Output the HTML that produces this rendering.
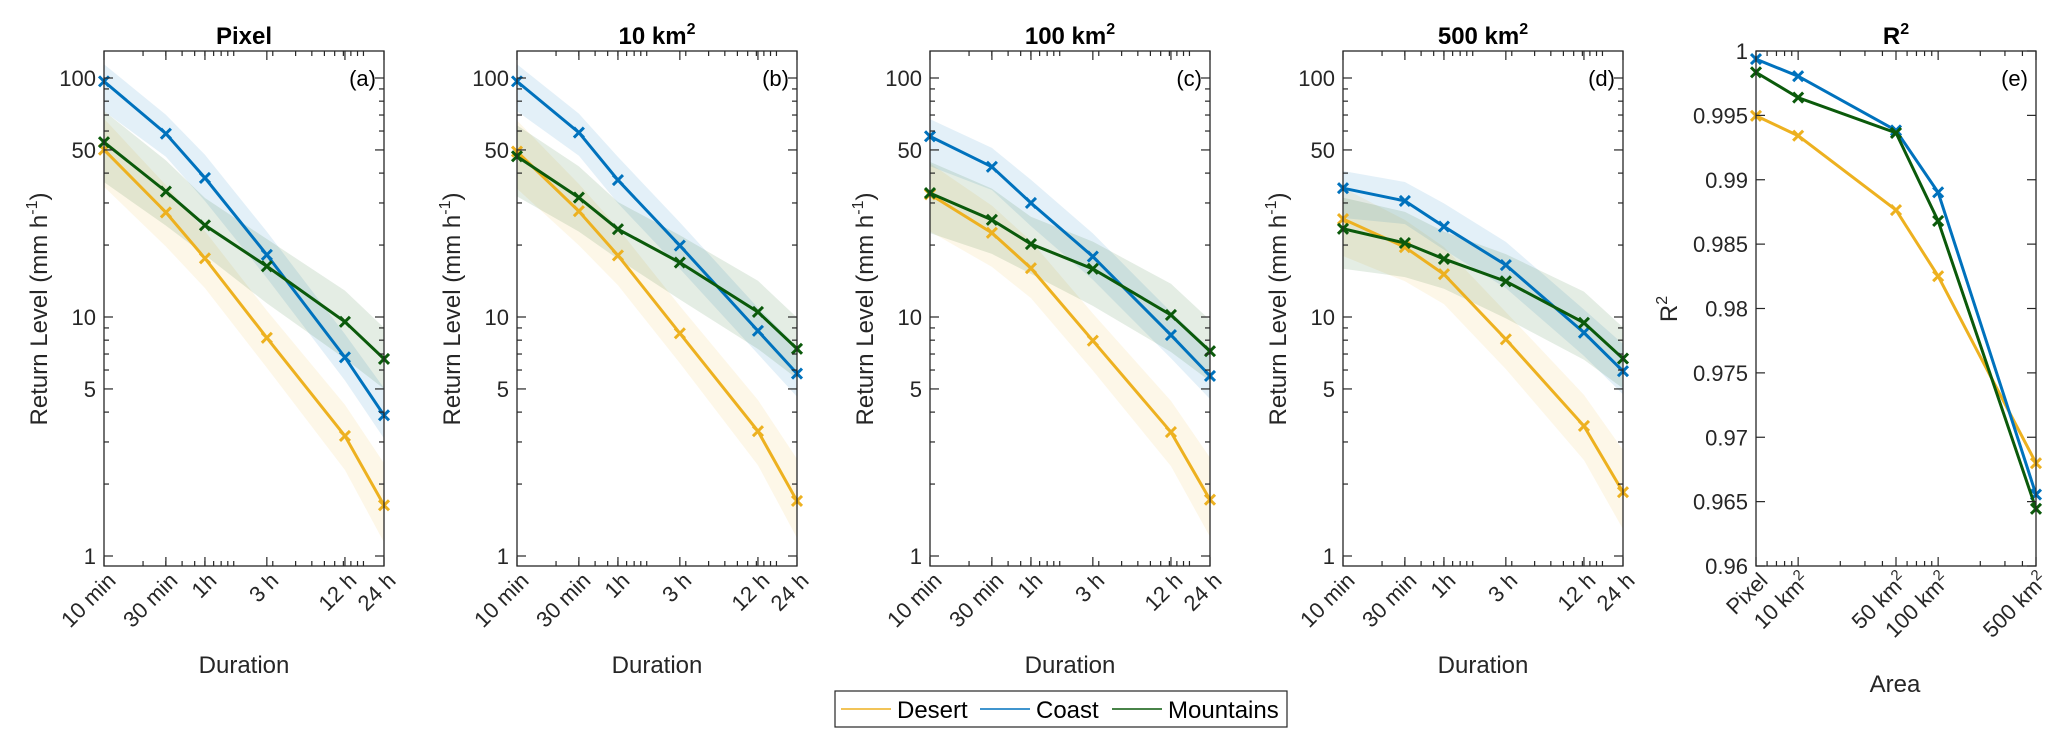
<!DOCTYPE html>
<html><head><meta charset="utf-8"><style>
body{margin:0;background:#fff}
svg{display:block;font-family:"Liberation Sans",Arial,sans-serif}
</style></head><body>
<svg id="fig" width="2067" height="741" viewBox="0 0 2067 741" xmlns="http://www.w3.org/2000/svg"></svg>
<script>
// ---- data ----
const durations = [10, 30, 60, 180, 720, 1440];
const durationLabels = ["10 min", "30 min", "1h", "3 h", "12 h", "24 h"];
const panelTitles = ["Pixel", "10 km", "100 km", "500 km"];
const panelLetters = ["(a)", "(b)", "(c)", "(d)"];
const desertA = [50.1, 27.4, 17.6, 8.18, 3.18, 1.63];
const coastA = [96.8, 58.5, 38.2, 18.2, 6.78, 3.88];
const mountainsA = [53.9, 33.5, 24.2, 16.3, 9.55, 6.68];
const desertB = [49.2, 27.7, 18.1, 8.55, 3.33, 1.70];
const coastB = [96.8, 59.1, 37.4, 19.9, 8.75, 5.8];
const mountainsB = [47, 31.6, 23.3, 16.9, 10.5, 7.36];
const desertC = [32.6, 22.5, 16, 7.96, 3.3, 1.72];
const coastC = [57, 42.5, 30, 17.9, 8.4, 5.67];
const mountainsC = [33, 25.5, 20.2, 15.9, 10.2, 7.19];
const desertD = [25.7, 19.6, 15.1, 8.07, 3.5, 1.85];
const coastD = [34.6, 30.6, 23.9, 16.5, 8.6, 5.93];
const mountainsD = [23.4, 20.4, 17.5, 14.1, 9.46, 6.7];
const desertLow = [0.7, 0.72, 0.75, 0.75, 0.72, 0.7];
const desertHigh = [1.35, 1.3, 1.3, 1.3, 1.35, 1.5];
const coastLow = [0.75, 0.8, 0.8, 0.8, 0.8, 0.8];
const coastHigh = [1.18, 1.2, 1.25, 1.25, 1.25, 1.3];
const mountainsLow = [0.68, 0.72, 0.75, 0.7, 0.7, 0.75];
const mountainsHigh = [1.35, 1.35, 1.3, 1.3, 1.35, 1.35];
const yTickValues = [1, 5, 10, 50, 100];
const areas = [5, 10, 50, 100, 500];
const areaLabels = ["Pixel", "10 km", "50 km", "100 km", "500 km"];
const r2Desert = [0.99497, 0.99342, 0.98765, 0.98251, 0.96799];
const r2Coast = [0.99937, 0.99804, 0.99383, 0.98902, 0.96555];
const r2Mountains = [0.99834, 0.99638, 0.99364, 0.9868, 0.96444];
const r2Ticks = [0.96, 0.965, 0.97, 0.975, 0.98, 0.985, 0.99, 0.995, 1];

const COL = {desert:"#EDB120", coast:"#0072BD", mountains:"#0B5A0B"};
const NS = "http://www.w3.org/2000/svg";
const svg = document.getElementById("fig");
function mk(tag, attrs, parent){const e=document.createElementNS(NS,tag);for(const k in attrs)e.setAttribute(k,attrs[k]);(parent||svg).appendChild(e);return e;}

const TOP=51, BOT=566, W=280;
const lefts=[104,517,930,1343];
function yLog(v){return 78+(2-Math.log10(v))*239;}
function xDur(left,m){return left+Math.log10(m/10)*(W/Math.log10(144));}

const panelData=[[desertA,coastA,mountainsA],[desertB,coastB,mountainsB],[desertC,coastC,mountainsC],[desertD,coastD,mountainsD]];
const seriesNames=["desert","coast","mountains"];
const lows=[desertLow,coastLow,mountainsLow], highs=[desertHigh,coastHigh,mountainsHigh];

function marker(g,x,y,c,name){
  const p=mk("path",{d:`M${x-5},${y-5}L${x+5},${y+5}M${x-5},${y+5}L${x+5},${y-5}`,stroke:c,"stroke-width":3,fill:"none"},g);
  
  
}

lefts.forEach((L,pi)=>{
  const g=mk("g",{});
  
  
  // bands
  [0,1,2].forEach(si=>{
    const d=panelData[pi][si];
    let pts=durations.map((m,i)=>xDur(L,m)+","+yLog(d[i]*highs[si][i]));
    let lo=durations.map((m,i)=>xDur(L,m)+","+yLog(d[i]*lows[si][i])).reverse();
    const b=mk("polygon",{points:pts.concat(lo).join(" "),fill:COL[seriesNames[si]],"fill-opacity":si==0?0.1:0.11,stroke:"none"},g);
    
    
  });
  // lines
  [0,1,2].forEach(si=>{
    const d=panelData[pi][si];
    const l=mk("polyline",{points:durations.map((m,i)=>xDur(L,m)+","+yLog(d[i])).join(" "),fill:"none",stroke:COL[seriesNames[si]],"stroke-width":3},g);
    
    
    durations.forEach((m,i)=>marker(g,xDur(L,m),yLog(d[i]),COL[seriesNames[si]],seriesNames[si]+'-marker'));
  });
  // axes box
  const box=mk("rect",{x:L,y:TOP,width:W,height:BOT-TOP,fill:"none",stroke:"#262626","stroke-width":1.3},g);
  
  
  // y ticks
  for(let dec=0;dec<3;dec++)for(let k=1;k<10;k++){
    const v=k*Math.pow(10,dec); if(v>130)continue;
    const y=yLog(v); const len=yTickValues.includes(v)?9:5;
    mk("line",{x1:L,x2:L+len,y1:y,y2:y,stroke:"#262626","stroke-width":1.2},g);
    mk("line",{x1:L+W,x2:L+W-len,y1:y,y2:y,stroke:"#262626","stroke-width":1.2},g);
  }
  yTickValues.forEach(v=>{
    const t=mk("text",{x:L-8,y:yLog(v)+8,"text-anchor":"end","font-size":22,fill:"#262626"},g);
    t.textContent=v;
    
    
  });
  // x ticks
  const minors=[20,30,40,50,60,70,80,90,100,200,300,400,500,600,700,800,900,1000];
  minors.forEach(m=>{const x=xDur(L,m);
    mk("line",{x1:x,x2:x,y1:BOT,y2:BOT-5,stroke:"#262626","stroke-width":1.2},g);
    mk("line",{x1:x,x2:x,y1:TOP,y2:TOP+5,stroke:"#262626","stroke-width":1.2},g);});
  durations.forEach((m,i)=>{const x=xDur(L,m);
    mk("line",{x1:x,x2:x,y1:BOT,y2:BOT-9,stroke:"#262626","stroke-width":1.2},g);
    mk("line",{x1:x,x2:x,y1:TOP,y2:TOP+9,stroke:"#262626","stroke-width":1.2},g);
    const t=mk("text",{x:x+13,y:BOT+16,"text-anchor":"end","font-size":22,fill:"#262626",transform:`rotate(-45 ${x+13} ${BOT+16})`},g);
    t.textContent=durationLabels[i];
    
    
  });
  // title
  const tt=mk("text",{x:L+W/2,y:44,"text-anchor":"middle","font-size":24,"font-weight":"bold",fill:"#000"},g);
  tt.textContent=panelTitles[pi];
  if(pi>0){const s=mk("tspan",{dy:-10,"font-size":16},tt);s.textContent="2";}
  
  
  const lt=mk("text",{x:L+W-8,y:86,"text-anchor":"end","font-size":22,fill:"#000"},g);
  lt.textContent=panelLetters[pi];
  
  
  const yl=mk("text",{x:0,y:0,"text-anchor":"middle","font-size":24,fill:"#262626",transform:`translate(${L-57} 309) rotate(-90)`},g);
  yl.textContent="Return Level (mm h";
  const sp=mk("tspan",{dy:-10,"font-size":16},yl);sp.textContent="-1";
  const sp2=mk("tspan",{dy:10},yl);sp2.textContent=")";
  
  
  const xl=mk("text",{x:L+W/2,y:673,"text-anchor":"middle","font-size":24,fill:"#262626"},g);
  xl.textContent="Duration";
  
  
});

// ---- panel e ----
const LE=1756;
function xA(a){return LE+Math.log10(a/5)*(W/2);}
function yR(v){return BOT-(v-0.96)/0.04*(BOT-TOP);}
const ge=mk("g",{});


[[r2Desert,"desert"],[r2Coast,"coast"],[r2Mountains,"mountains"]].forEach(([d,n])=>{
  const l=mk("polyline",{points:areas.map((a,i)=>xA(a)+","+yR(d[i])).join(" "),fill:"none",stroke:COL[n],"stroke-width":3},ge);
  
  
  areas.forEach((a,i)=>marker(ge,xA(a),yR(d[i]),COL[n],n+'-r2-marker'));
});
const be=mk("rect",{x:LE,y:TOP,width:W,height:BOT-TOP,fill:"none",stroke:"#262626","stroke-width":1.3},ge);


r2Ticks.forEach(v=>{const y=yR(v);
  mk("line",{x1:LE,x2:LE+9,y1:y,y2:y,stroke:"#262626","stroke-width":1.2},ge);
  mk("line",{x1:LE+W,x2:LE+W-9,y1:y,y2:y,stroke:"#262626","stroke-width":1.2},ge);
  const t=mk("text",{x:LE-8,y:y+8,"text-anchor":"end","font-size":22,fill:"#262626"},ge);
  t.textContent=String(v);
  
  
});
[6,7,8,9,20,30,40,60,70,80,90,200,300,400].forEach(a=>{const x=xA(a);
  mk("line",{x1:x,x2:x,y1:BOT,y2:BOT-5,stroke:"#262626","stroke-width":1.2},ge);
  mk("line",{x1:x,x2:x,y1:TOP,y2:TOP+5,stroke:"#262626","stroke-width":1.2},ge);});
areas.forEach((a,i)=>{const x=xA(a);
  mk("line",{x1:x,x2:x,y1:BOT,y2:BOT-9,stroke:"#262626","stroke-width":1.2},ge);
  mk("line",{x1:x,x2:x,y1:TOP,y2:TOP+9,stroke:"#262626","stroke-width":1.2},ge);
  const t=mk("text",{x:x+13,y:BOT+16,"text-anchor":"end","font-size":22,fill:"#262626",transform:`rotate(-45 ${x+13} ${BOT+16})`},ge);
  t.textContent=areaLabels[i];
  if(i>0){const s=mk("tspan",{dy:-9,"font-size":15},t);s.textContent="2";}
  
  
});
const te=mk("text",{x:LE+W/2,y:44,"text-anchor":"middle","font-size":24,"font-weight":"bold"},ge);
te.textContent="R";{const s=mk("tspan",{dy:-10,"font-size":16},te);s.textContent="2";}


const le=mk("text",{x:LE+W-8,y:86,"text-anchor":"end","font-size":22},ge);
le.textContent="(e)";


const yle=mk("text",{x:0,y:0,"text-anchor":"middle","font-size":24,fill:"#262626",transform:`translate(1677 309) rotate(-90)`},ge);
yle.textContent="R";{const s=mk("tspan",{dy:-10,"font-size":16},yle);s.textContent="2";}


const xle=mk("text",{x:1895,y:692,"text-anchor":"middle","font-size":24,fill:"#262626"},ge);
xle.textContent="Area";



// ---- legend ----
const lg=mk("g",{});


mk("rect",{x:835,y:691,width:452,height:36,fill:"#fff",stroke:"#262626","stroke-width":1.2},lg);
[["Desert",841,"desert"],["Coast",980,"coast"],["Mountains",1112,"mountains"]].forEach(([lab,x,n])=>{
  const e=mk("g",{},lg);
  
  
  mk("line",{x1:x,x2:x+50,y1:709,y2:709,stroke:COL[n],"stroke-width":1.5},e);
  const t=mk("text",{x:x+56,y:718,"font-size":24,fill:"#000"},e);
  t.textContent=lab;
});
</script>
</body></html>
